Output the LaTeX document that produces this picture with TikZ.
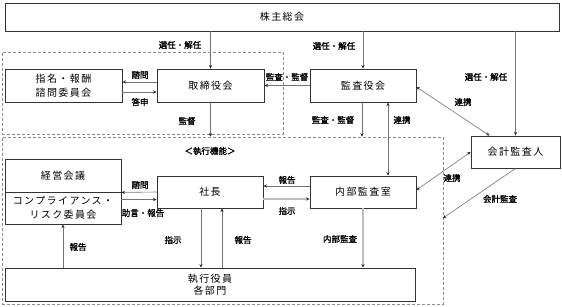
\documentclass[tikz,border=0pt]{standalone}
\usepackage{fontspec}
\setmainfont{Noto Sans CJK JP}
\newfontfamily\lblfont[FakeBold=1.5]{Noto Sans CJK JP}
\newfontfamily\boxfont[LetterSpace=14]{Noto Sans CJK JP}
\usetikzlibrary{arrows.meta,calc}
\begin{document}
\begin{tikzpicture}[x=1pt,y=-1pt,
  >={Stealth[length=3.5pt,width=3.2pt,color=black!85]},
  box/.style={draw=black!80, line width=0.9pt, fill=white, inner sep=0pt,
    font=\boxfont\fontsize{10}{14}\selectfont, align=center},
  lbl/.style={font=\lblfont\fontsize{8.5}{9}\selectfont, inner sep=0pt},
  conn/.style={draw=black!55, line width=0.6pt},
  lconn/.style={draw=black!25, line width=1.1pt},
  dbox/.style={draw=black!45, dash pattern=on 3pt off 2pt, line width=0.7pt, inner sep=0pt}]
\useasboundingbox (0,0) rectangle (562,306);
% dashed areas
\node[dbox, minimum width=281pt, minimum height=82pt] (topf) at (142.5,93) {};
\node[dbox, minimum width=441pt, minimum height=167pt] (exf) at (222.5,220.5) {};
% boxes
\node[box, minimum width=554pt, minimum height=28pt] (sh) at (282,17) {株主総会};
\node[box, minimum width=117pt, minimum height=33pt] (nom) at (63.5,85.5) {指名・報酬\\諮問委員会};
\node[box, minimum width=107pt, minimum height=33pt] (bod) at (210.5,85.5) {取締役会};
\node[box, minimum width=106pt, minimum height=33pt] (kan) at (363,85.5) {監査役会};
\node[box, minimum width=89pt, minimum height=32pt] (acc) at (515.5,152) {会計監査人};
\node[box, minimum width=116pt, minimum height=33pt] (kei) at (63,175.5) {経営会議};
\node[box, minimum width=116pt, minimum height=32pt] (comp) at (63,208) {コンプライアンス・\\リスク委員会};
\node[box, minimum width=106pt, minimum height=32pt] (pres) at (210,192) {社長};
\node[box, minimum width=106pt, minimum height=32pt] (ia) at (363,192) {内部監査室};
\node[box, minimum width=410pt, minimum height=33pt, font=\boxfont\fontsize{10}{12}\selectfont] (exec) at (210,284.5) {執行役員\\各部門};
% free ends
\coordinate (caend) at (443,218);
% connectors
\draw[conn,->] (sh.south -| bod.north) -- (bod.north);
\draw[conn,->] (sh.south -| kan.north) -- (kan.north);
\draw[conn,->] (sh.south -| acc.north) -- (acc.north);
\draw[conn,->] ([yshift=3.5pt]bod.west) -- ([yshift=3.5pt]bod.west -| nom.east);
\draw[conn,->] ([yshift=-6.5pt]nom.east) -- ([yshift=-6.5pt]nom.east -| bod.west);
\draw[conn,->] (kan.west) -- (kan.west -| bod.east);
\draw[conn,->] (bod.south) -- (bod.south |- exf.north);
\draw[conn,->] ([xshift=-1pt]kan.south) -- ([xshift=-1pt]kan.south |- exf.north);
\draw[conn,<->] ([xshift=25pt]kan.south) -- ([xshift=25pt]ia.north);
\draw[conn,<->] ([yshift=-1.5pt]kan.east) -- ([xshift=-26pt]acc.north);
\draw[conn,<->] (acc.west) -- ([yshift=2pt]ia.east);
\draw[conn,->] (acc.south) -- (caend);
\draw[conn,->] (pres.west) -- (kei.south east);
\draw[conn,->] ([yshift=-8pt]comp.north east) -- ([yshift=-8pt]comp.north east -| pres.west);
\draw[conn,->] (exec.north -| comp.south) -- (comp.south);
\draw[conn,->] ([xshift=-9pt]pres.south) -- ([xshift=-9pt]pres.south |- exec.north);
\draw[conn,->] ([xshift=12pt]exec.north) -- ([xshift=12pt]exec.north |- pres.south);
\draw[conn,->] ([yshift=6pt]ia.west) -- ([yshift=6pt]ia.west -| pres.east);
\draw[lconn,->] ([yshift=-7pt]pres.east) -- ([yshift=-7pt]pres.east -| ia.west);
\draw[lconn,->] (ia.south) -- (ia.south |- exec.north);
% labels
\node[lbl] (l1) at (180,45) {選任・解任};
\node[lbl] (l2) at (334,46) {選任・解任};
\node[lbl] (l3) at (486,77) {選任・解任};
\node[lbl] (l4) at (140,75) {諮問};
\node[lbl] (l5) at (140,102) {答申};
\node[lbl] (l6) at (287,77) {監査・監督};
\node[lbl] (l7) at (187,121) {監督};
\node[lbl] (l8) at (333,120) {監査・監督};
\node[lbl] (l9) at (402,120) {連携};
\node[lbl] (l10) at (463,102) {連携};
\node[lbl] (l11) at (452,178) {連携};
\node[lbl] (l12) at (210,151) {＜執行機能＞};
\node[lbl] (l13) at (140,185) {諮問};
\node[lbl] (l14) at (143,213) {助言・報告};
\node[lbl] (l15) at (287,180) {報告};
\node[lbl] (l16) at (287,211) {指示};
\node[lbl] (l17) at (500,199) {会計監査};
\node[lbl] (l18) at (173,240) {指示};
\node[lbl] (l19) at (243,240) {報告};
\node[lbl] (l20) at (78,247) {報告};
\node[lbl] (l21) at (340,239) {内部監査};
\end{tikzpicture}
\end{document}
